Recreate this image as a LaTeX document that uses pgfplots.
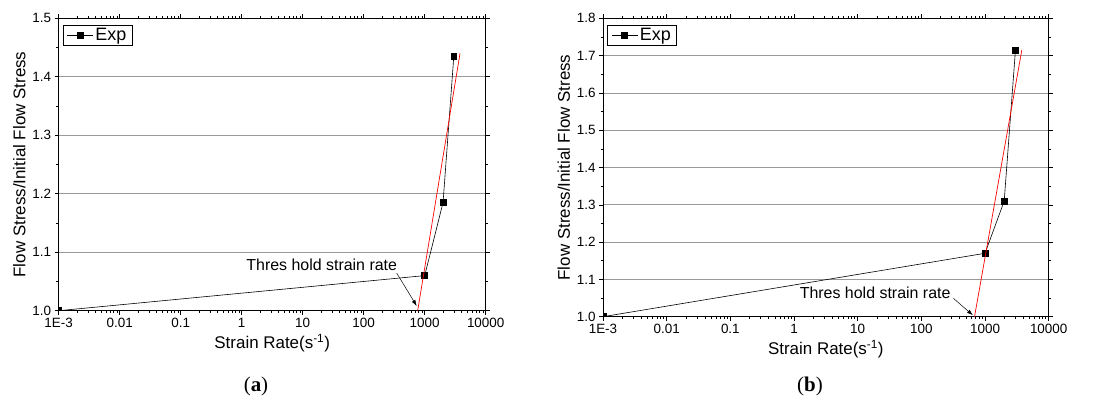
\documentclass[border=0pt]{standalone}
\usepackage{pgfplots}
\pgfplotsset{compat=1.18}
\usepackage{fontspec}
\setmainfont{Liberation Sans}
\newfontfamily\capfont{Liberation Serif}
\usetikzlibrary{arrows.meta}
\pgfplotsset{
  myax/.style={
    scale only axis,
    clip marker paths=true,
    xmin=1e-3, xmax=1e4,
    xtick={1e-3,1e-2,1e-1,1,10,100,1000,10000},
    xticklabels={1E-3,0.01,0.1,1,10,100,1000,10000},
    tick align=outside,
    major tick length=4bp, minor tick length=2.5bp,
    minor y tick num=1,
    ymajorgrids, grid style={gray!80, line width=0.8pt},
    axis line style={black, line width=0.7pt},
    tick style={black, line width=0.6pt},
    /pgf/number format/assume math mode=true,
    yticklabel style={/pgf/number format/fixed,/pgf/number format/fixed zerofill,/pgf/number format/precision=1},
    ticklabel style={font=\fontsize{13.5}{14}\selectfont},
    label style={font=\fontsize{17}{18}\selectfont},
    xlabel={Strain Rate(s\textsuperscript{-1})},
    ylabel={Flow Stress/Initial Flow Stress},
    legend style={at={(0.009,0.977)},anchor=north west,draw=black,line width=0.7pt,font=\fontsize{18}{19}\selectfont, inner xsep=4pt, inner ysep=1pt},
    legend image code/.code={\draw[mark repeat=2,mark phase=2,#1] plot coordinates {(0bp,0bp) (13bp,0bp) (26bp,0bp)};},
    legend cell align=left,
  }
}
\begin{document}
\begin{tikzpicture}
\useasboundingbox (0bp,0bp) rectangle (1094bp,401bp);
\begin{semilogxaxis}[myax, at={(58.7bp,90.3bp)}, anchor=south west, width=427bp, height=292.4bp,
  ymin=1.0, ymax=1.5, ytick distance=0.1]
\addplot[black, line width=0.6pt, mark=square*, mark size=3pt, mark options={solid}] coordinates {(0.001,1.0) (1000,1.06) (2000,1.185) (3000,1.435)};
\addlegendentry{Exp}
\addplot[red, line width=0.7pt, forget plot] coordinates {(767,1.0) (3793,1.44)};
\draw[-{Latex[length=6bp,width=4bp]}, line width=0.5pt] (axis cs:347,1.0645) -- (axis cs:740,1.008);
\node[font=\fontsize{16}{18}\selectfont] at (axis cs:20.5,1.078) {Thres hold strain rate};
\end{semilogxaxis}
\begin{semilogxaxis}[myax, at={(603bp,84.3bp)}, anchor=south west, width=445.7bp, height=298.4bp,
  ymin=1.0, ymax=1.8, ytick distance=0.1]
\addplot[black, line width=0.6pt, mark=square*, mark size=3pt, mark options={solid}] coordinates {(0.001,1.0) (1000,1.17) (2000,1.31) (3000,1.713)};
\addlegendentry{Exp}
\addplot[red, line width=0.7pt, forget plot] coordinates {(684,1.0) (3784,1.715)};
\draw[-{Latex[length=6bp,width=4bp]}, line width=0.5pt] (axis cs:320,1.049) -- (axis cs:645,1.004);
\node[font=\fontsize{16}{18}\selectfont] at (axis cs:18.8,1.063) {Thres hold strain rate};
\end{semilogxaxis}
\node[font=\capfont\fontsize{21}{22}\selectfont] at (256bp,15bp) {(\textbf{a})};
\node[font=\capfont\fontsize{21}{22}\selectfont] at (810bp,15bp) {(\textbf{b})};
\end{tikzpicture}
\end{document}
